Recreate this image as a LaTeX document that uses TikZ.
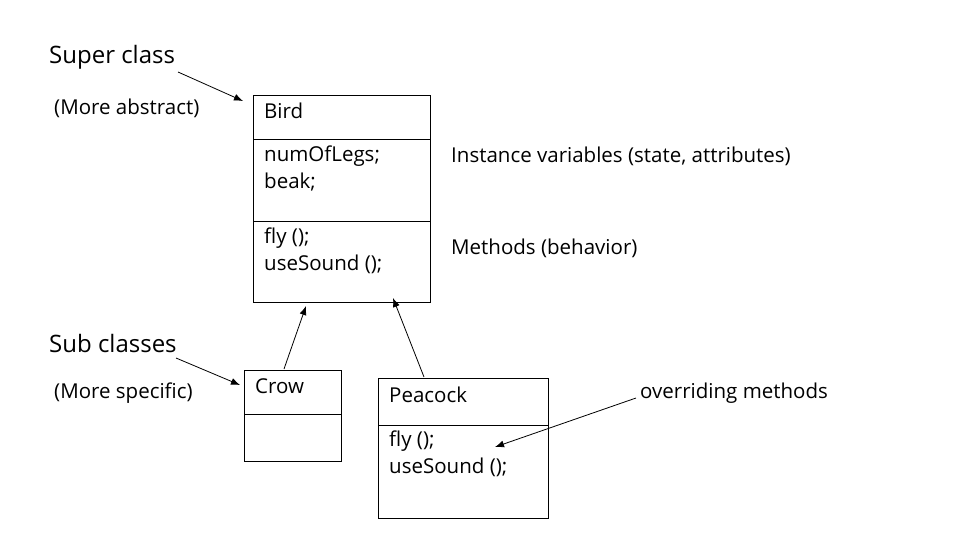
\documentclass[tikz,border=0pt]{standalone}
\usepackage{fontspec}
\setmainfont{Open Sans}
\usetikzlibrary{arrows.meta}
\begin{document}
\begin{tikzpicture}[x=1pt,y=-1pt,
  box/.style={draw=black,line width=0.8pt},
  lbl/.style={anchor=west,inner sep=0pt,font=\fontsize{20.5}{24}\selectfont},
  big/.style={anchor=west,inner sep=0pt,font=\fontsize{24}{28}\selectfont},
  arr/.style={-{Latex[length=9pt,width=7pt]},line width=0.8pt}]
\useasboundingbox[fill=white] (0,0) rectangle (968,555);
% Bird
\draw[box] (253,95) rectangle (430,302);
\draw[box] (253,139) -- (430,139);
\draw[box] (253,221) -- (430,221);
\node[lbl] (bird) at (264,111) {Bird};
\node[lbl] (legs) at (264,156) {numOfLegs;};
\node[lbl] (beak) at (264,182) {beak;};
\node[lbl] (fly) at (264,238) {fly ();};
\node[lbl] (use) at (264,264) {useSound ();};
% Crow
\draw[box] (244,370) rectangle (341,461);
\draw[box] (244,414) -- (341,414);
\node[lbl] (crow) at (255,386) {Crow};
% Peacock
\draw[box] (378,378) rectangle (548,518);
\draw[box] (378,425) -- (548,425);
\node[lbl] (pea) at (389,395) {Peacock};
\node[lbl] (pfly) at (389,441) {fly ();};
\node[lbl] (puse) at (389,467) {useSound ();};
% labels
\node[big] (sup) at (49,57) {Super class};
\node[lbl] (abs) at (54,108) {(More abstract)};
\node[big] (sub) at (49,343) {Sub classes};
\node[lbl] (spec) at (54,393) {(More specific)};
\node[lbl] (inst) at (451,156) {Instance variables (state, attributes)};
\node[lbl] (meth) at (451,248) {Methods (behavior)};
\node[lbl] (over) at (640,393) {overriding methods};
% coordinates
\coordinate (a1) at (178,72); \coordinate (a2) at (243,101);
\coordinate (b1) at (176,358); \coordinate (b2) at (240,385);
\coordinate (c1) at (284,369); \coordinate (c2) at (306,306);
\coordinate (d1) at (424,377); \coordinate (d2) at (393,298);
\coordinate (e1) at (636,398); \coordinate (e2) at (495,447);
\draw[arr] (a1) -- (a2);
\draw[arr] (b1) -- (b2);
\draw[arr] (c1) -- (c2);
\draw[arr] (d1) -- (d2);
\draw[arr] (e1) -- (e2);
\end{tikzpicture}
\end{document}
